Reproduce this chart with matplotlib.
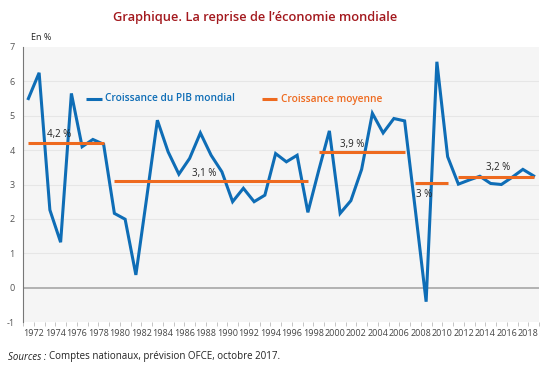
import matplotlib
matplotlib.use("Agg")
import matplotlib.pyplot as plt
import numpy as np

years = list(range(1972, 2020))
growth = [5.50, 6.25, 2.26, 1.32, 5.65, 4.10, 4.31, 4.17, 2.16, 1.99,
          0.37, 2.60, 4.87, 3.95, 3.30, 3.76, 4.50, 3.85, 3.37, 2.50,
          2.89, 2.50, 2.69, 3.90, 3.66, 3.85, 2.19, 3.40, 4.56, 2.16,
          2.53, 3.44, 5.07, 4.50, 4.92, 4.85, 2.25, -0.41, 6.57, 3.81,
          3.01, 3.13, 3.24, 3.03, 3.00, 3.21, 3.44, 3.25]

period_start = [1972, 1980, 1999, 2008, 2012]
period_end = [1979, 1998, 2007, 2011, 2019]
period_avg = [4.2, 3.1, 3.94, 3.03, 3.22]
period_labels = ["4,2 %", "3,1 %", "3,9 %", "3 %", "3,2 %"]
label_pos = [(1974.85, 4.44), (1988.35, 3.33), (2002.15, 4.17), (2008.8, 2.72), (2015.7, 3.5)]

tick_years = list(range(1972, 2019, 2))

plt.rcParams['font.family'] = ['Open Sans', 'DejaVu Sans']

fig = plt.figure(figsize=(5.5, 3.72), dpi=100)
ax = fig.add_axes([23/550, 1-322/372, 516/550, 275/372])
ax.set_facecolor('#F5F5F5')

BLUE = '#0E6DB6'
ORANGE = '#EE6A1F'

ax.set_ylim(-1, 7)
ax.set_xlim(1971.5, 2019.5)
ax.set_yticks(range(-1, 8))
ax.set_yticklabels([str(v) for v in range(-1, 8)], color='#555555', fontsize=6.5)
for v in range(0, 7):
    if v == 0:
        ax.axhline(v, color='#A6A6A6', lw=1.2, zorder=1)
    else:
        ax.axhline(v, color='#E6E6E6', lw=0.8, zorder=1)

ax.plot(years, growth, color=BLUE, lw=2.2, zorder=3, solid_joinstyle='miter')
for s, e, a in zip(period_start, period_end, period_avg):
    ax.plot([s, e], [a, a], color=ORANGE, lw=2.2, zorder=4, solid_capstyle='butt')
for lab, (x, y) in zip(period_labels, label_pos):
    ax.text(x, y, lab, fontsize=7, color='#222222', ha='center', va='center', zorder=5)

ax.set_xticks([y + 0.5 for y in tick_years])
ax.set_xticklabels([str(y) for y in tick_years], fontsize=6.5, color='#444444')
ax.set_xticks([y + 0.5 for y in range(1971, 2020)], minor=True)
ax.tick_params(axis='x', which='both', length=3, color='#BBBBBB', width=0.6, pad=2)
ax.tick_params(axis='y', length=0, pad=6)

for sp in ['top', 'right', 'bottom']:
    ax.spines[sp].set_visible(False)
ax.spines['left'].set_color('#777777')
ax.spines['left'].set_linewidth(0.8)

# legend
ax.plot([1977.36, 1978.85], [5.5, 5.5], color=BLUE, lw=2.2, solid_capstyle='butt')
ax.text(1979.13, 5.5, "Croissance du PIB mondial", color=BLUE, fontsize=7.3,
        fontweight='semibold', va='center', ha='left')
ax.plot([1993.73, 1995.13], [5.48, 5.48], color=ORANGE, lw=2.2, solid_capstyle='butt')
ax.text(1995.5, 5.48, "Croissance moyenne", color=ORANGE, fontsize=7.3,
        fontweight='semibold', va='center', ha='left')

fig.text(255/550, 1-18/372, "Graphique. La reprise de l\u2019économie mondiale",
         color='#A3191E', fontsize=9.3, fontweight='semibold', ha='center', va='center')
fig.text(31/550, 1-38/372, "En %", fontsize=6.5, color='#222222', ha='left', va='center')

t1 = fig.text(8/550, 1-357/372, "Sources :", fontsize=7, style='italic', color='#222222',
              ha='left', va='center')
fig.canvas.draw()
bb = t1.get_window_extent(fig.canvas.get_renderer())
fig.text((bb.x1 + 3)/550, 1-357/372, "Comptes nationaux, prévision OFCE, octobre 2017.",
         fontsize=7, color='#222222', ha='left', va='center')

fig.savefig('out.png', dpi=100)
